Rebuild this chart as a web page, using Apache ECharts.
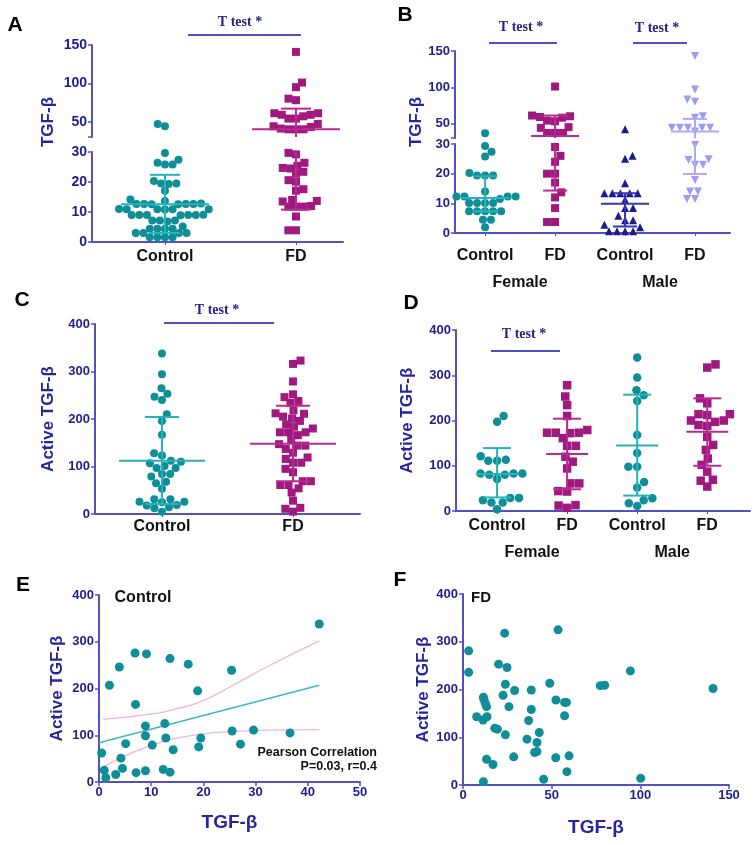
<!DOCTYPE html>
<html>
<head>
<meta charset="utf-8">
<script src="https://cdn.jsdelivr.net/npm/echarts@6/dist/echarts.min.js"></script>
<style>
html,body{margin:0;padding:0;background:#fff}
#chart{width:756px;height:845px}
</style>
</head>
<body>
<div id="chart"></div>
<script>
// ---------- data ----------
var groups = ['Control', 'FD'];
var groups4 = ['Control', 'FD', 'Control', 'FD'];
var sexes = ['Female', 'Male'];

// A: TGF-beta, all subjects
var aControl = [47, 44, 29.7, 27.4, 25.8, 25.8, 26.4, 19.5, 19.5, 20.3, 19.3, 17.1, 14.2, 13.7,
  12.7, 12.7, 12.6, 12.8, 12.7, 12.6, 12.7, 10.9, 10.9, 10.8, 11, 10.9, 10.9,
  9, 9, 9.1, 8.9, 9, 9, 9, 6.8, 7.2, 7.2, 7.2, 4.4, 4.4, 4.4, 4.4, 5.2, 3, 3, 3, 3, 1.6, 1.6, 1.6, 1.6];
var aFD = [141, 101, 95, 80, 78, 61, 59, 57, 54, 54, 59, 61, 44, 43, 40, 40, 40, 41, 47,
  29.2, 29.7, 25.4, 24.5, 24.7, 26.4, 23.4, 22.8, 20.6, 20.1, 17.6, 17.1, 14, 13.5, 13.7,
  11.8, 11.8, 11.8, 12, 8.5, 3.9, 3.9];
var aStats = [[12.6, 3.0, 22.4], [40, 10.8, 67]];   // centre, low, high

// B: TGF-beta by sex
var bFemaleControl = [36.4, 29.3, 27.4, 25.8, 19.4, 19.4, 19.4, 20.2, 14, 12.3, 12.3, 12.3, 12.3, 11.5,
  10.1, 10.1, 10.1, 10.1, 7.3, 7.3, 7.3, 7.3, 7.3, 4.5, 4.5, 1.9];
var bFemaleFD = [101, 60, 58, 53, 54, 59, 61, 44, 37, 37, 37, 45, 29, 26, 24, 20, 20, 17, 13.7, 12, 8.4, 3.7, 3.7];
var bMaleControl = [42, 26, 25, 16.8, 13.4, 13.4, 13.4, 13.4, 13.4, 11.2, 8.4, 8.4, 5.8, 4.3, 4.3, 2.8, 1.9, 0.6, 0.6, 0.6, 0.6];
var bMaleFD = [143, 97, 83, 80, 60, 58, 44, 44, 44, 44, 44, 39, 29.7, 24.6, 23, 23, 24.9, 17.9, 14, 14, 11.5, 11.5];
var bStats = [[11.8, 7.3, 19.1], [32.7, 14.3, 61], [9.9, 2.2, 13.4], [39, 19.9, 56.4]];

// C: active TGF-beta, all subjects
var cControl = [338, 294, 265, 253, 247, 240, 210, 196, 167, 128, 123, 110, 112, 107, 101, 97, 97, 84, 84, 79, 68, 65, 53,
  31, 31, 26, 26, 25, 19, 18, 14, 12, 5];
var cFD = [323, 316, 279, 246, 252, 234, 238, 211, 201, 196, 218, 205, 212, 180, 184, 189, 172, 166, 172, 172,
  144, 137, 156, 147, 144, 119, 129, 116, 108, 108, 95, 88, 69, 61, 45, 61, 69, 54, 28, 13, 11, 5];
var cStats = [[112, 21, 204], [148, 69, 228]];

// D: active TGF-beta by sex
var dFemaleControl = [210, 197, 121, 113, 111, 111, 83, 83, 80, 80, 83, 71, 29, 24, 29, 19, 19, 4];
var dFemaleFD = [278, 253, 234, 210, 173, 173, 179, 172, 173, 144, 161, 144, 109, 120, 94, 61, 61, 43, 44, 13, 7, 12];
var dMaleControl = [339, 295, 267, 256, 243, 168, 128, 98, 98, 64, 52, 28, 24, 17, 11];
var dMaleFD = [324, 317, 249, 238, 214, 214, 212, 200, 200, 197, 188, 190, 164, 146, 135, 116, 102, 87, 69, 67, 54];
var dStats = [[82, 30, 139], [126, 48, 204], [145, 34, 257], [175, 100, 249]];

// E: correlation, control  [TGF-beta, active TGF-beta]
var eControl = [[42.2, 338], [6.9, 276], [9.1, 274], [13.6, 264], [17.1, 252], [3.9, 246], [25.4, 239], [2.0, 207],
  [18.9, 195], [7.0, 166], [8.9, 120], [12.6, 125], [8.9, 99], [12.8, 94], [10.2, 79], [5.1, 82], [19.5, 94],
  [19.1, 75], [14.2, 69], [25.5, 109], [27.1, 81], [29.6, 111], [36.6, 105], [0.5, 62], [4.2, 51], [1.0, 25],
  [4.5, 29], [1.3, 9], [3.2, 16], [7.1, 20], [8.9, 24], [12.3, 27], [13.6, 21]];
var eFit = [[0, 84], [42.2, 207]];
var eBandUpper = [[0.8, 134], [9.8, 145], [14.2, 155], [19.3, 171], [25.7, 207], [32.1, 246], [42.2, 302]];
var eBandLower = [[0.8, 32], [6.6, 64], [13, 89], [19.3, 102], [25.7, 108], [32.1, 111], [42.2, 112]];

// F: correlation, FD
var fFD = [[3.2, 281], [3.2, 236], [23.5, 318], [53.6, 325], [20.1, 253], [24.8, 246], [94.4, 239], [79.9, 209],
  [77.4, 208], [141, 202], [48.9, 213], [23.9, 211], [38.5, 199], [29.1, 198], [11.5, 184], [11.8, 179], [22.6, 188],
  [12.6, 171], [13.3, 164], [25.9, 164], [52.4, 178], [57.3, 173], [58.3, 173], [38.5, 158], [37, 135], [7.7, 143],
  [11.3, 136], [13.5, 143], [57.3, 145], [17.9, 119], [19.4, 117], [23.9, 105], [36.1, 96], [43, 110], [41.7, 89],
  [40.4, 68], [41.7, 70], [13.3, 54], [16.9, 43], [28.6, 59], [52.3, 57], [59.8, 61], [58.6, 28], [11.5, 7],
  [45.5, 12], [100.2, 14]];

// ---------- style ----------
var FONT = '"Liberation Sans", Arial, sans-serif';
var SERIF = '"Liberation Serif", "Times New Roman", serif';
var AXIS = '#5151c4', TICK = '#1d1d8e', NAME = '#26269c';
var TEAL = '#0f8e98', TEAL_L = '#25b3ba', PURP = '#a0197f', PURP_L = '#b62a92';
var NAVY = '#1b1b8c', NAVY_L = '#3535b8', LAV = '#9c9cf0', LAV_L = '#aaaaf6';

var grids = [], xAxes = [], yAxes = [], series = [], graphics = [];

// simple beeswarm: each point goes as close to the column centre as it can without overlapping
function swarm(vals, pxX, pxY, gap) {
  var order = vals.map(function (v, i) { return i; }).sort(function (a, b) { return vals[a] - vals[b]; });
  var placed = [], off = [], flip = 1;
  order.forEach(function (i) {
    var y = vals[i] * pxY;
    var cands = [0];
    placed.forEach(function (p) {
      var dy = Math.abs(p.y - y);
      if (dy < gap) {
        var dx = Math.sqrt(gap * gap - dy * dy) + 0.01;
        cands.push(p.x + dx, p.x - dx);
      }
    });
    cands.sort(function (a, b) {
      var d = Math.round(Math.abs(a) * 2) - Math.round(Math.abs(b) * 2);
      return d !== 0 ? d : (a - b) * flip;
    });
    var x = 0;
    for (var k = 0; k < cands.length; k++) {
      var c = cands[k];
      var ok = placed.every(function (p) { return (p.x - c) * (p.x - c) + (p.y - y) * (p.y - y) >= gap * gap - 0.05; });
      if (ok) { x = c; break; }
    }
    if (x !== 0) flip = -flip;
    placed.push({ x: x, y: y });
    off[i] = x / pxX;
  });
  return off;
}

function errorBars(c) {
  return function (params, api) {
    var x = api.value(0);
    var m = api.coord([x, api.value(1)]), lo = api.coord([x, api.value(2)]), hi = api.coord([x, api.value(3)]);
    var col = api.visual('color');
    function seg(x1, y1, x2, y2) {
      return { type: 'line', shape: { x1: x1, y1: y1, x2: x2, y2: y2 }, style: { stroke: col, lineWidth: 2 } };
    }
    return { type: 'group', children: [
      seg(m[0] - c.half, m[1], m[0] + c.half, m[1]),
      seg(lo[0], lo[1], hi[0], hi[1]),
      seg(lo[0] - c.cap, lo[1], lo[0] + c.cap, lo[1]),
      seg(hi[0] - c.cap, hi[1], hi[0] + c.cap, hi[1])
    ] };
  };
}

function stripPanel(c) {
  var pxX = c.width / (c.xMax - c.xMin);
  var idx = c.cats.map(function (_, i) { return i; });
  c.segs.forEach(function (s, si) {
    var bottom = si === 0;
    var gIdx = grids.length;
    grids.push({ left: c.left, top: s.top, width: c.width, height: s.height, containLabel: false, outerBoundsMode: 'none' });
    xAxes.push({
      gridIndex: gIdx, type: 'value', min: c.xMin, max: c.xMax,
      axisLine: { show: bottom, onZero: false, lineStyle: { color: AXIS, width: 2 } },
      axisTick: { show: bottom, length: 3, customValues: idx, lineStyle: { color: AXIS } },
      axisLabel: { show: bottom, customValues: idx, formatter: function (v) { return c.cats[Math.round(v)]; },
        color: '#111', fontSize: 16, fontWeight: 'bold', fontFamily: FONT, margin: c.labelMargin },
      splitLine: { show: false }
    });
    var xi = xAxes.length - 1;
    if (bottom && c.sexOffset) {
      xAxes.push({
        gridIndex: gIdx, type: 'value', min: c.xMin, max: c.xMax, position: 'bottom', offset: c.sexOffset,
        axisLine: { show: false, onZero: false }, axisTick: { show: false },
        axisLabel: { customValues: [0.5, 2.5], formatter: function (v) { return sexes[v < 1.5 ? 0 : 1]; },
          color: '#111', fontSize: 16, fontWeight: 'bold', fontFamily: FONT, margin: 8 },
        splitLine: { show: false }
      });
    }
    var yl = { color: TICK, fontSize: c.tickFont, fontWeight: 'bold', fontFamily: FONT, margin: 5 };
    var yt = { show: true, length: 4, lineStyle: { color: AXIS, width: 1.5 } };
    if (s.labels) yl.customValues = s.labels;
    if (s.ticks) yt.customValues = s.ticks;
    var ya = { gridIndex: gIdx, type: 'value', min: s.min, max: s.max,
      axisLine: { show: true, onZero: false, lineStyle: { color: AXIS, width: 2 } }, axisTick: yt, axisLabel: yl,
      splitLine: { show: false } };
    if (s.interval) ya.interval = s.interval;
    if (s.name) {
      ya.name = s.name; ya.nameLocation = 'middle'; ya.nameGap = s.nameGap;
      ya.nameTextStyle = { color: NAME, fontSize: 17, fontWeight: 'bold', fontFamily: FONT };
    }
    yAxes.push(ya);
    var yi = yAxes.length - 1;
    var pxY = s.height / (s.max - s.min);
    c.groups.forEach(function (g, k) {
      var vals = g.vals.filter(function (v) { return bottom ? v <= s.max : v > s.min; });
      var off = swarm(vals, pxX, pxY, c.gap);
      series.push({
        type: 'scatter', xAxisIndex: xi, yAxisIndex: yi, symbol: g.symbol, symbolSize: c.size,
        symbolRotate: g.rotate || 0, itemStyle: { color: g.color, opacity: 1 }, silent: true, z: 2,
        data: vals.map(function (v, j) { return [k + off[j], v]; })
      });
    });
    series.push({
      type: 'custom', xAxisIndex: xi, yAxisIndex: yi, clip: true, silent: true, z: 3,
      renderItem: errorBars(c),
      data: c.stats.map(function (st, k) { return { value: [k, st[0], st[1], st[2]], itemStyle: { color: c.groups[k].line } }; })
    });
  });
}

// A
stripPanel({
  left: 92, width: 251, xMin: -0.557, xMax: 1.359, cats: groups, labelMargin: 7, tickFont: 14,
  gap: 7.6, size: 8, half: 44, cap: 15, stats: aStats,
  segs: [
    { top: 152, height: 90, min: 0, max: 30, interval: 10 },
    { top: 45, height: 92, min: 30, max: 150, labels: [50, 100, 150], ticks: [30, 50, 100, 150] }
  ],
  groups: [
    { vals: aControl, symbol: 'circle', color: TEAL, line: TEAL_L },
    { vals: aFD, symbol: 'rect', color: PURP, line: PURP_L }
  ]
});

// B
stripPanel({
  left: 455, width: 275, xMin: -0.43, xMax: 3.5, cats: groups4, labelMargin: 15, tickFont: 13, sexOffset: 34,
  gap: 8, size: 8, half: 24, cap: 12, stats: bStats,
  segs: [
    { top: 144, height: 89, min: 0, max: 30, interval: 10 },
    { top: 51, height: 87, min: 30, max: 150, labels: [50, 100, 150], ticks: [30, 50, 100, 150] }
  ],
  groups: [
    { vals: bFemaleControl, symbol: 'circle', color: TEAL, line: TEAL_L },
    { vals: bFemaleFD, symbol: 'rect', color: PURP, line: PURP_L },
    { vals: bMaleControl, symbol: 'triangle', color: NAVY, line: NAVY_L },
    { vals: bMaleFD, symbol: 'triangle', rotate: 180, color: LAV, line: LAV_L }
  ]
});

// C
stripPanel({
  left: 95, width: 265, xMin: -0.511, xMax: 1.511, cats: groups, labelMargin: 5, tickFont: 13,
  gap: 8.2, size: 8, half: 43, cap: 17, stats: cStats,
  segs: [{ top: 324, height: 190, min: 0, max: 400, interval: 100, name: 'Active TGF-β', nameGap: 38 }],
  groups: [
    { vals: cControl, symbol: 'circle', color: TEAL, line: TEAL_L },
    { vals: cFD, symbol: 'rect', color: PURP, line: PURP_L }
  ]
});

// D
stripPanel({
  left: 456, width: 294, xMin: -0.586, xMax: 3.61, cats: groups4, labelMargin: 7, tickFont: 13, sexOffset: 26,
  gap: 8.8, size: 8.5, half: 21, cap: 14, stats: dStats,
  segs: [{ top: 330, height: 181, min: 0, max: 400, interval: 100, name: 'Active TGF-β', nameGap: 40 }],
  groups: [
    { vals: dFemaleControl, symbol: 'circle', color: TEAL, line: TEAL_L },
    { vals: dFemaleFD, symbol: 'rect', color: PURP, line: PURP_L },
    { vals: dMaleControl, symbol: 'circle', color: TEAL, line: TEAL_L },
    { vals: dMaleFD, symbol: 'rect', color: PURP, line: PURP_L }
  ]
});

// E and F: correlation plots
function corrPanel(c) {
  var gIdx = grids.length;
  grids.push({ left: c.left, top: c.top, width: c.width, height: c.height, containLabel: false, outerBoundsMode: 'none' });
  var lab = { color: TICK, fontSize: 13, fontWeight: 'bold', fontFamily: FONT };
  var nm = { color: NAME, fontWeight: 'bold', fontFamily: FONT };
  xAxes.push({
    gridIndex: gIdx, type: 'value', min: 0, max: c.xMax, interval: c.xInterval,
    name: 'TGF-β', nameLocation: 'middle', nameGap: c.xNameGap, nameTextStyle: Object.assign({ fontSize: 19 }, nm),
    axisLine: { onZero: false, lineStyle: { color: AXIS, width: 2 } },
    axisTick: { length: 4, lineStyle: { color: AXIS, width: 1.5 } },
    axisLabel: Object.assign({ margin: 4 }, lab), splitLine: { show: false }
  });
  yAxes.push({
    gridIndex: gIdx, type: 'value', min: 0, max: 400, interval: 100,
    name: 'Active TGF-β', nameLocation: 'middle', nameGap: c.yNameGap, nameTextStyle: Object.assign({ fontSize: 17 }, nm),
    axisLine: { onZero: false, lineStyle: { color: AXIS, width: 2 } },
    axisTick: { length: 4, lineStyle: { color: AXIS, width: 1.5 } },
    axisLabel: Object.assign({ margin: 5 }, lab), splitLine: { show: false }
  });
  var ax = { xAxisIndex: xAxes.length - 1, yAxisIndex: yAxes.length - 1 };
  if (c.fit) {
    series.push(Object.assign({ type: 'line', data: c.bandUp, smooth: true, symbol: 'none', silent: true,
      lineStyle: { color: '#f2b2dc', width: 1.3 } }, ax));
    series.push(Object.assign({ type: 'line', data: c.bandLo, smooth: true, symbol: 'none', silent: true,
      lineStyle: { color: '#f2b2dc', width: 1.3 } }, ax));
    series.push(Object.assign({ type: 'line', data: c.fit, symbol: 'none', silent: true,
      lineStyle: { color: '#3cb9c1', width: 1.6 } }, ax));
  }
  series.push(Object.assign({ type: 'scatter', data: c.points, symbol: 'circle', symbolSize: 9, silent: true,
    itemStyle: { color: TEAL, opacity: 1 }, z: 4 }, ax));
}
corrPanel({ left: 99, top: 595, width: 261, height: 187, xMax: 50, xInterval: 10, xNameGap: 31, yNameGap: 33,
  points: eControl, fit: eFit, bandUp: eBandUpper, bandLo: eBandLower });
corrPanel({ left: 463, top: 594, width: 266, height: 191, xMax: 150, xInterval: 50, xNameGap: 33, yNameGap: 31,
  points: fFD });

// ---------- annotations ----------
function txt(x, y, s, font, fill, align, rot) {
  graphics.push({ type: 'text', x: x, y: y, rotation: rot || 0, z: 10, silent: true,
    style: { text: s, font: font, fill: fill || '#000', align: align || 'center', textAlign: align || 'center',
      verticalAlign: 'middle', textVerticalAlign: 'middle' } });
}
function hline(x1, x2, y) {
  graphics.push({ type: 'line', z: 10, silent: true, shape: { x1: x1, y1: y, x2: x2, y2: y }, style: { stroke: AXIS, lineWidth: 2 } });
}
var LETTER = 'bold 21px ' + FONT;
txt(15, 25, 'A', LETTER); txt(405, 15, 'B', LETTER); txt(22, 300, 'C', LETTER);
txt(411, 303, 'D', LETTER); txt(23, 585, 'E', LETTER); txt(400, 580, 'F', LETTER);

var TT = 'bold 14px ' + SERIF;
txt(240, 22, 'T test *', TT, '#23238a'); hline(188, 301, 35);
txt(521, 27, 'T test *', TT, '#23238a'); hline(489, 557, 43);
txt(657, 28, 'T test *', TT, '#23238a'); hline(633, 687, 43);
txt(217, 310, 'T test *', TT, '#23238a'); hline(164, 274, 323);
txt(524, 334, 'T test *', TT, '#23238a'); hline(491, 560, 351);

txt(48, 122, 'TGF-β', 'bold 17px ' + FONT, NAME, 'center', Math.PI / 2);
txt(416, 122, 'TGF-β', 'bold 17px ' + FONT, NAME, 'center', Math.PI / 2);

txt(143, 598, 'Control', 'bold 16px ' + FONT, '#111');
txt(481, 598, 'FD', 'bold 15px ' + FONT, '#111');
txt(377, 753, 'Pearson Correlation', 'bold 12.5px ' + FONT, '#111', 'right');
txt(377, 767, 'P=0.03, r=0.4', 'bold 12.5px ' + FONT, '#111', 'right');

var chart = echarts.init(document.getElementById('chart'), null, { renderer: 'canvas' });
chart.setOption({
  animation: false,
  backgroundColor: '#fff',
  grid: grids,
  xAxis: xAxes,
  yAxis: yAxes,
  series: series,
  graphic: graphics
});
</script>
</body>
</html>
